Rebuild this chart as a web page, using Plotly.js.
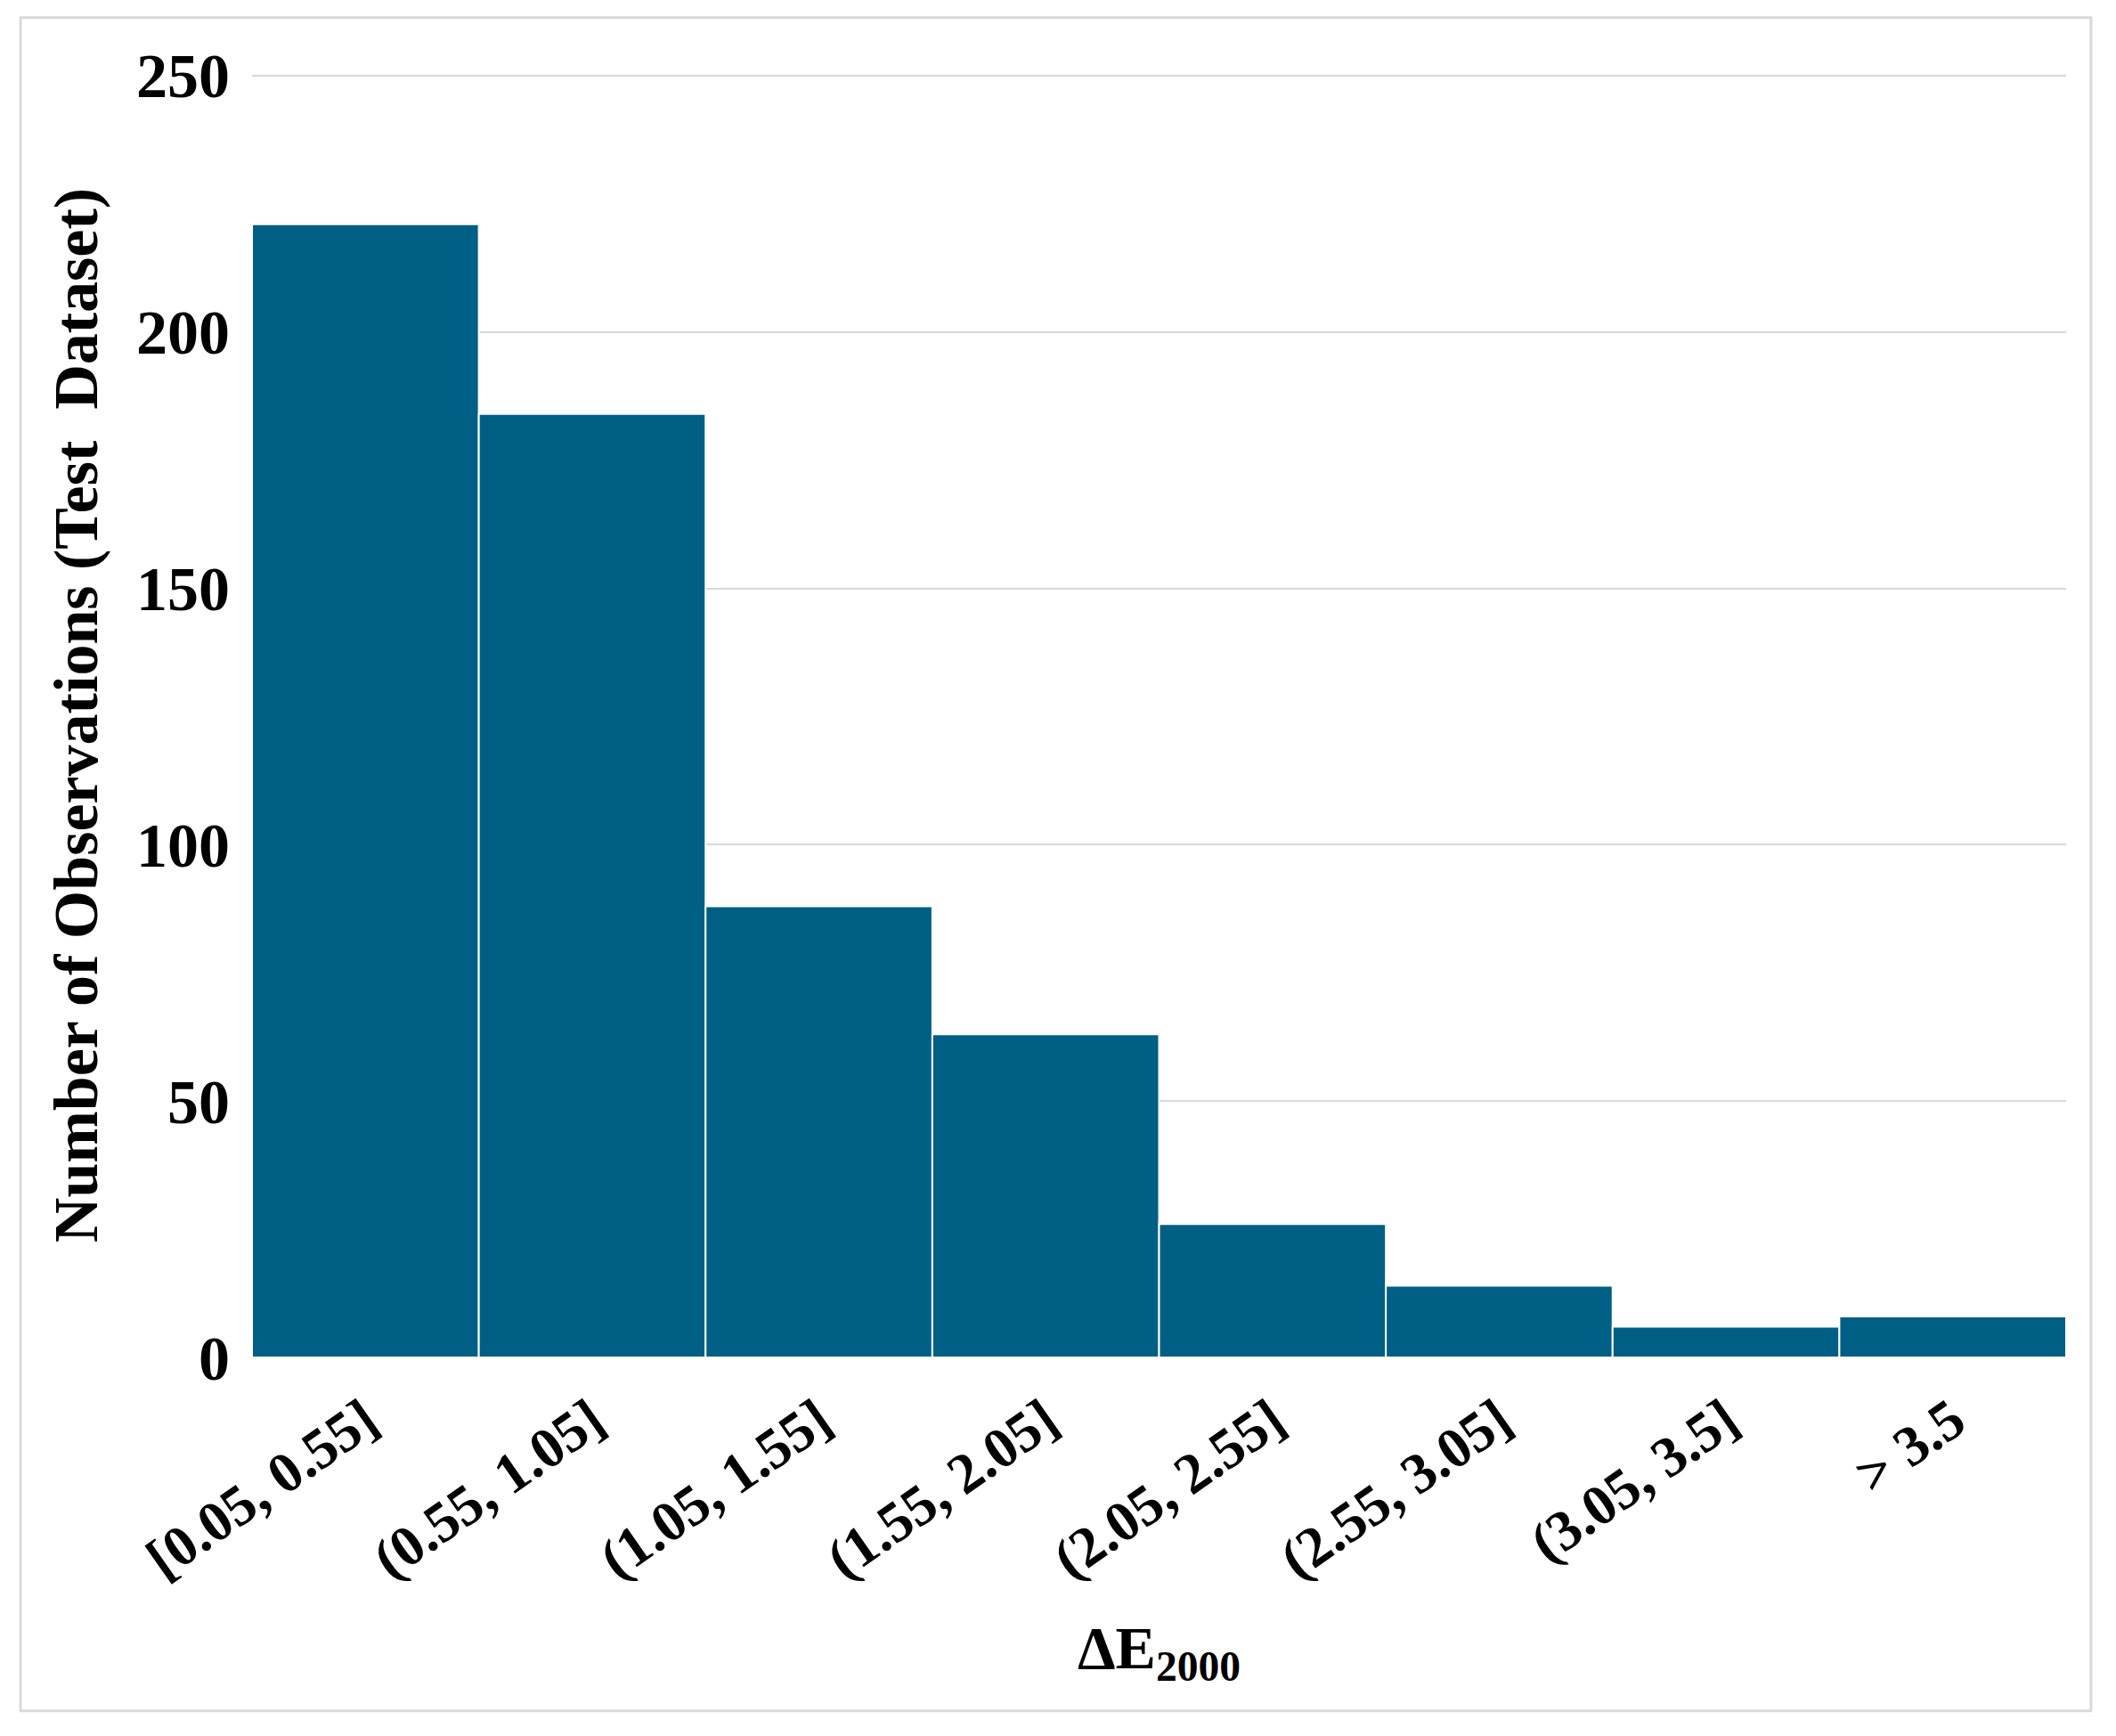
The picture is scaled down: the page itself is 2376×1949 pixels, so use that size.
<!DOCTYPE html>
<html>
<head>
<meta charset="utf-8">
<script src="https://cdn.plot.ly/plotly-3.0.1.min.js"></script>
<style>
  html, body { margin: 0; padding: 0; background: #ffffff; }
  #chart { width: 2376px; height: 1949px; }
</style>
</head>
<body>
<div id="chart"></div>
<script>
const categories = ["[0.05, 0.55]", "(0.55, 1.05]", "(1.05, 1.55]", "(1.55, 2.05]", "(2.05, 2.55]", "(2.55, 3.05]", "(3.05, 3.5]", "> 3.5"];
const counts = [221, 184, 88, 63, 26, 14, 6, 8];
const yTickValues = [0, 50, 100, 150, 200, 250];
const xTitle = "<b>ΔE<sub>2000</sub></b>";
const yTitle = "<b>Number of Observations (Test  Dataset)</b>";

const fontFamily = "'Liberation Serif', 'Times New Roman', serif";

const trace = {
  type: "bar",
  x: categories,
  y: counts,
  marker: { color: "#005F85", line: { color: "#ffffff", width: 2 } },
  hoverinfo: "x+y"
};

const layout = {
  width: 2376,
  height: 1949,
  margin: { l: 283, r: 56, t: 82, b: 425 },
  paper_bgcolor: "#ffffff",
  plot_bgcolor: "#ffffff",
  showlegend: false,
  bargap: 0,
  font: { family: fontFamily, color: "#000000", weight: 700 },
  xaxis: {
    type: "category",
    tickangle: -35,
    tickfont: { family: fontFamily, size: 64, weight: 700, color: "#000000" },
    ticks: "",
    ticklabelstandoff: 20,
    showgrid: false,
    showline: false,
    zeroline: false,
    automargin: false,
    title: { text: xTitle, font: { family: fontFamily, size: 68, weight: 700, color: "#000000" }, standoff: 40 }
  },
  yaxis: {
    range: [0, 250.5],
    tickvals: yTickValues,
    ticktext: yTickValues.map(v => "<b>" + v + "</b>"),
    tickfont: { family: fontFamily, size: 70, weight: 700, color: "#000000" },
    ticks: "",
    ticklabelstandoff: 24,
    showgrid: true,
    gridcolor: "#d9d9d9",
    gridwidth: 2,
    showline: false,
    zeroline: false,
    automargin: true,
    title: { text: yTitle, font: { family: fontFamily, size: 70, weight: 700, color: "#000000" }, standoff: 20 }
  },
  shapes: [{
    type: "rect",
    xref: "paper", yref: "paper",
    x0: -0.1276, x1: 1.0137, y0: -0.2752, y1: 1.0431,
    line: { color: "#d9d9d9", width: 3 },
    fillcolor: "rgba(0,0,0,0)",
    layer: "below"
  }]
};

Plotly.newPlot("chart", [trace], layout, { displayModeBar: false, staticPlot: true });
</script>
</body>
</html>
